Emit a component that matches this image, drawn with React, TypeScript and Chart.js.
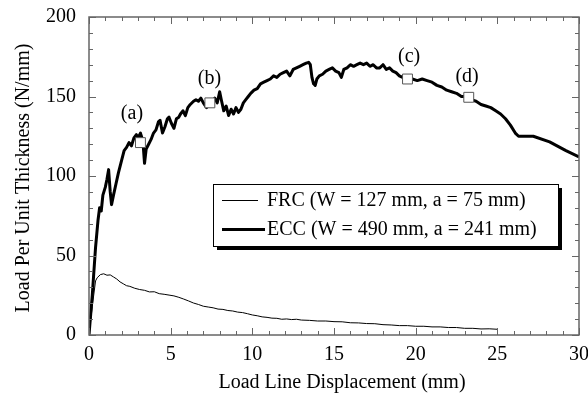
import React, { useEffect, useRef } from "react";
import { Chart, registerables } from "chart.js";

Chart.register(...registerables);

const FONT = '"Liberation Serif", "Times New Roman", serif';

const seriesNames = ["FRC (W = 127 mm, a = 75 mm)", "ECC (W = 490 mm, a = 241 mm)"];
const xTitle = "Load Line Displacement (mm)";
const yTitle = "Load Per Unit Thickness (N/mm)";

const xMin = 0, xMax = 30, xStep = 5, xMinorStep = 1;
const yMin = 0, yMax = 200, yStep = 50, yMinorStep = 10;

const frcX = [0, 0.2, 0.4, 0.5, 0.7, 0.9, 1.1, 1.3, 1.5, 1.7, 1.9, 2.1, 2.3, 2.5, 2.8, 3.1, 3.4, 3.7, 4.0, 4.3, 4.6, 4.9, 5.2, 5.5, 5.8, 6.1, 6.4, 6.7, 7.0, 7.3, 7.6, 7.9, 8.2, 8.5, 8.8, 9.1, 9.4, 9.7, 10.0, 10.3, 10.6, 10.9, 11.2, 11.5, 11.8, 12.1, 12.4, 12.7, 13.0, 13.5, 14.0, 14.5, 15.0, 15.5, 16.0, 16.5, 17.0, 17.5, 18.0, 18.5, 19.0, 19.5, 20.0, 20.5, 21.0, 21.5, 22.0, 22.5, 23.0, 23.5, 24.0, 24.5, 25.0];
const frcY = [0, 18, 34, 36, 38, 38.5, 37.6, 37.8, 36.5, 35.2, 33.4, 32.2, 31, 30.6, 29.4, 28.6, 28.1, 27.1, 27.2, 26, 25.6, 25.1, 24.6, 23.7, 22.6, 21.4, 20.1, 19.2, 18.1, 17.6, 17.1, 16.3, 16.1, 15.4, 15.1, 14.4, 14.1, 13.4, 12.6, 12.1, 11.4, 11.1, 10.6, 10.5, 9.9, 10.1, 9.7, 9.9, 9.4, 9.2, 8.8, 8.8, 8.4, 8.3, 7.7, 7.6, 7.2, 7.1, 6.5, 6.3, 5.9, 5.9, 5.5, 5.5, 5.1, 5.1, 4.7, 4.7, 4.2, 4.2, 3.8, 3.9, 3.6];

const eccX = [0, 0.2, 0.4, 0.55, 0.65, 0.75, 0.85, 1.0, 1.1, 1.2, 1.3, 1.38, 1.5, 1.65, 1.8, 2.0, 2.15, 2.3, 2.45, 2.6, 2.75, 2.9, 3.0, 3.15, 3.3, 3.4, 3.5, 3.65, 3.8, 3.95, 4.1, 4.25, 4.35, 4.5, 4.65, 4.8, 4.9, 5.05, 5.2, 5.35, 5.5, 5.6, 5.75, 5.9, 6.05, 6.2, 6.4, 6.55, 6.7, 6.85, 7.0, 7.2, 7.4, 7.55, 7.7, 7.85, 8.0, 8.1, 8.25, 8.4, 8.55, 8.7, 8.85, 9.0, 9.15, 9.3, 9.45, 9.6, 9.75, 9.9, 10.1, 10.3, 10.5, 10.7, 10.9, 11.1, 11.3, 11.5, 11.7, 11.9, 12.1, 12.3, 12.5, 12.7, 12.9, 13.1, 13.3, 13.45, 13.55, 13.65, 13.75, 13.85, 13.95, 14.1, 14.3, 14.5, 14.7, 14.9, 15.1, 15.3, 15.45, 15.6, 15.8, 16.0, 16.2, 16.4, 16.6, 16.8, 17.0, 17.2, 17.4, 17.6, 17.8, 18.0, 18.2, 18.4, 18.6, 18.8, 19.0, 19.2, 19.5, 19.8, 20.1, 20.4, 20.7, 21.0, 21.3, 21.6, 21.9, 22.2, 22.5, 22.8, 23.1, 23.4, 23.7, 24.0, 24.3, 24.6, 24.9, 25.2, 25.5, 25.8, 26.1, 26.3, 27.2, 28.2, 29.2, 30.0];
const eccY = [0, 25, 55, 72, 80, 78, 88, 93, 98, 104, 90, 82, 88, 95, 102, 110, 116, 118, 121, 119, 124, 126, 124, 127, 122, 108, 117, 120, 123, 127, 129, 134, 135, 127, 131, 136, 137, 133, 130, 136, 137, 139, 141, 138, 143, 145, 147, 148, 147, 149, 146, 143, 146, 147, 149, 146, 153, 148, 141, 144, 138, 142, 139, 143, 140, 142, 146, 148, 150, 152, 154, 155, 158, 159, 160, 161, 163, 162, 164, 165, 166, 163, 167, 168, 169, 170, 171, 171.5, 170, 162, 158, 157, 161, 163, 164, 166, 167, 168, 166, 165, 162, 167, 168, 170, 169, 170, 171, 170, 171, 169, 170, 168, 168, 170, 167, 168, 166, 165, 163, 162, 161, 161, 160, 161, 160, 159, 157, 156, 154, 153, 152, 150, 150, 148, 147, 145, 144, 143, 141, 139, 136, 132, 127, 125, 125, 121.5, 116, 112];

const markerX = [3.15, 7.4, 19.5, 23.25];
const markerY = [121, 146, 161, 149.5];
const markerLabels = ["(a)", "(b)", "(c)", "(d)"];
const labelX = [2.63, 7.37, 19.6, 23.15];
const labelY = [139, 161, 174.8, 162.3];

const decorPlugin = {
  id: "decor",
  afterDraw(chart: any) {
    const { ctx, chartArea, scales } = chart;
    const { left, right, top, bottom } = chartArea;
    const xs = scales.x;
    const ys = scales.y;
    ctx.save();

    // inward ticks on all four sides
    ctx.strokeStyle = "#666";
    ctx.lineWidth = 1;
    ctx.beginPath();
    for (let v = xMin; v <= xMax + 1e-9; v += xMinorStep) {
      const px = Math.round(xs.getPixelForValue(v)) + 0.5;
      const len = Math.abs(v % xStep) < 1e-9 ? 7 : 4;
      ctx.moveTo(px, bottom);
      ctx.lineTo(px, bottom - len);
      ctx.moveTo(px, top);
      ctx.lineTo(px, top + len);
    }
    for (let v = yMin; v <= yMax + 1e-9; v += yMinorStep) {
      const py = Math.round(ys.getPixelForValue(v)) + 0.5;
      const len = Math.abs(v % yStep) < 1e-9 ? 7 : 4;
      ctx.moveTo(left, py);
      ctx.lineTo(left + len, py);
      ctx.moveTo(right, py);
      ctx.lineTo(right - len, py);
    }
    ctx.stroke();

    // frame
    ctx.lineWidth = 1.5;
    ctx.strokeStyle = "#666";
    ctx.strokeRect(left, top, right - left, bottom - top);

    // point labels
    ctx.fillStyle = "#000";
    ctx.font = `20px ${FONT}`;
    ctx.textAlign = "center";
    ctx.textBaseline = "middle";
    for (let i = 0; i < markerLabels.length; i++) {
      ctx.fillText(markerLabels[i], xs.getPixelForValue(labelX[i]), ys.getPixelForValue(labelY[i]));
    }

    // legend box with shadow
    const bx = 213, by = 184, bw = 345, bh = 62;
    ctx.fillStyle = "#000";
    ctx.fillRect(bx + 4, by + 4, bw, bh);
    ctx.fillStyle = "#fff";
    ctx.fillRect(bx, by, bw, bh);
    ctx.strokeStyle = "#000";
    ctx.lineWidth = 1;
    ctx.strokeRect(bx + 0.5, by + 0.5, bw, bh);
    const rows = [200, 229];
    const widths = [1, 3];
    const ends = [258, 265];
    ctx.textAlign = "left";
    for (let i = 0; i < seriesNames.length; i++) {
      ctx.beginPath();
      ctx.lineWidth = widths[i];
      ctx.moveTo(222, rows[i] + 0.5);
      ctx.lineTo(ends[i], rows[i] + 0.5);
      ctx.stroke();
      ctx.fillStyle = "#000";
      ctx.fillText(seriesNames[i], 267, rows[i] + 1);
    }

    // axis titles
    ctx.textAlign = "center";
    ctx.textBaseline = "middle";
    ctx.fillText(xTitle, 342, 383);
    ctx.translate(24, 178);
    ctx.rotate(-Math.PI / 2);
    ctx.fillText(yTitle, 0, 0);
    ctx.restore();
  },
};

export default function App() {
  const ref = useRef<HTMLCanvasElement | null>(null);
  useEffect(() => {
    if (!ref.current) return;
    const tickFont = { family: FONT, size: 20 };
    const chart = new Chart(ref.current, {
      type: "line",
      data: {
        datasets: [
          {
            label: "markers",
            data: markerX.map((x, i) => ({ x, y: markerY[i] })),
            showLine: false,
            pointStyle: "rect",
            pointRadius: 7,
            pointBackgroundColor: "#fff",
            pointBorderColor: "#555",
            pointBorderWidth: 1,
          },
          {
            label: seriesNames[1],
            data: eccX.map((x, i) => ({ x, y: eccY[i] })),
            borderColor: "#000",
            borderWidth: 3,
            pointRadius: 0,
            tension: 0,
            borderJoinStyle: "round",
          },
          {
            label: seriesNames[0],
            data: frcX.map((x, i) => ({ x, y: frcY[i] })),
            borderColor: "#000",
            borderWidth: 1,
            pointRadius: 0,
            tension: 0,
          },
        ],
      },
      options: {
        animation: false,
        responsive: false,
        maintainAspectRatio: false,
        layout: { padding: { top: 17, right: 9, left: 0, bottom: 0 } },
        plugins: { legend: { display: false }, tooltip: { enabled: false } },
        scales: {
          x: {
            type: "linear",
            min: xMin,
            max: xMax,
            ticks: { stepSize: xStep, font: tickFont, color: "#000", padding: 8, maxRotation: 0, autoSkip: false },
            grid: { display: false, drawTicks: false },
            border: { display: false },
            afterFit: (s: any) => {
              s.height = 58;
              s.paddingLeft = 0;
              s.paddingRight = 0;
            },
          },
          y: {
            type: "linear",
            min: yMin,
            max: yMax,
            ticks: { stepSize: yStep, font: tickFont, color: "#000", padding: 13 },
            grid: { display: false, drawTicks: false },
            border: { display: false },
            afterFit: (s: any) => {
              s.width = 89;
              s.paddingTop = 0;
              s.paddingBottom = 0;
            },
          },
        },
      },
      plugins: [decorPlugin],
    } as any);
    return () => chart.destroy();
  }, []);
  return (
    <div style={{ position: "fixed", left: 0, top: 0, width: 588, height: 393, background: "#fff" }}>
      <canvas ref={ref} width={588} height={393} style={{ width: 588, height: 393 }} />
    </div>
  );
}
